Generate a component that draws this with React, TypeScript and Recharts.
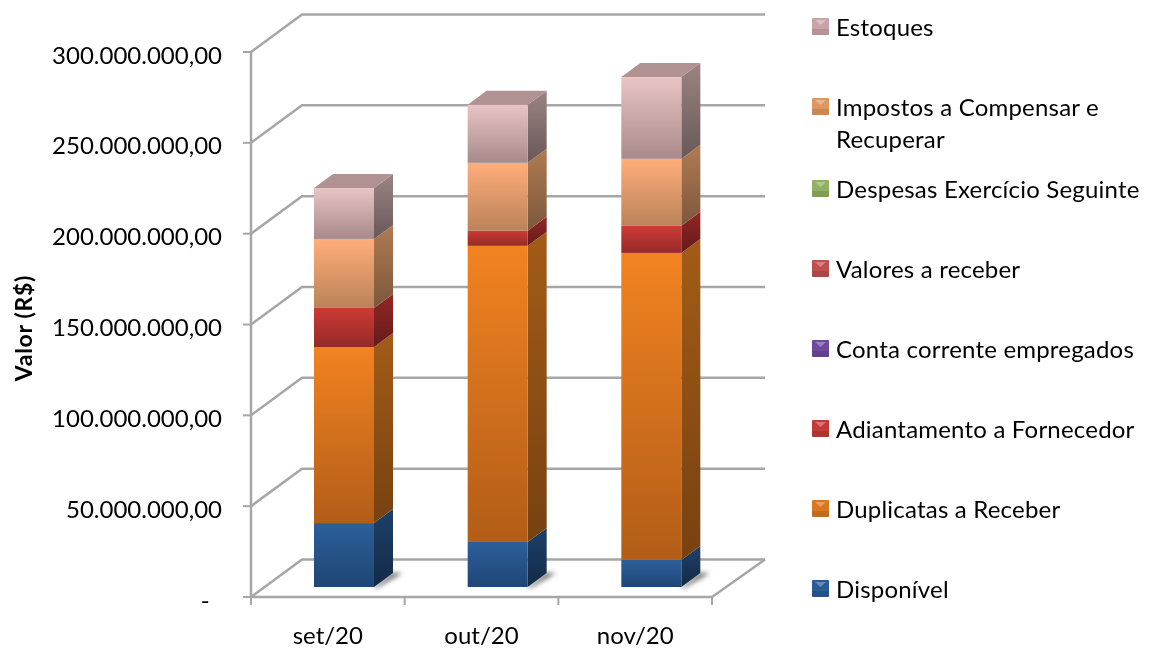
import { BarChart, Bar, XAxis, YAxis, CartesianGrid } from 'recharts'

const categories = ['set/20', 'out/20', 'nov/20']
const disponivel = [35200000, 24800000, 14900000]
const duplicatas = [96900000, 163000000, 169000000]
const adiantamento = [21500000, 8300000, 14900000]
const contaCorrente = [0, 0, 0]
const valoresReceber = [0, 0, 0]
const despesas = [0, 0, 0]
const impostos = [38000000, 37400000, 36900000]
const estoques = [28000000, 32000000, 45000000]

const yTicks = [0, 50000000, 100000000, 150000000, 200000000, 250000000, 300000000]

const data = categories.map((name, i) => ({
    name,
    disponivel: disponivel[i],
    duplicatas: duplicatas[i],
    adiantamento: adiantamento[i],
    contaCorrente: contaCorrente[i],
    valoresReceber: valoresReceber[i],
    despesas: despesas[i],
    impostos: impostos[i],
    estoques: estoques[i],
}))

// front[top,bottom], side[top,bottom]
const series = [
    { key: 'disponivel', name: 'Disponível', front: ['#2c5f9a', '#1f4675'], side: ['#1f4068', '#122a48'], swatch: '#2a5c96' },
    { key: 'duplicatas', name: 'Duplicatas a Receber', front: ['#f28321', '#b25d18'], side: ['#a35c17', '#774111'], swatch: '#d9781e' },
    { key: 'adiantamento', name: 'Adiantamento a Fornecedor', front: ['#cd3a36', '#952a27'], side: ['#942626', '#641a1a'], swatch: '#c43a34' },
    { key: 'contaCorrente', name: 'Conta corrente empregados', front: ['#7a52a8', '#5b3d80'], side: ['#53386f', '#3c2851'], swatch: '#6f4a9c' },
    { key: 'valoresReceber', name: 'Valores a receber', front: ['#cd3a36', '#952a27'], side: ['#942626', '#641a1a'], swatch: '#c0504d' },
    { key: 'despesas', name: 'Despesas Exercício Seguinte', front: ['#9bbb59', '#76904a'], side: ['#6d8340', '#4f5f2e'], swatch: '#90b062' },
    { key: 'impostos', name: 'Impostos a Compensar e Recuperar', front: ['#ffae7a', '#bb8258'], side: ['#b07b52', '#7c573d'], swatch: '#e0975f' },
    { key: 'estoques', name: 'Estoques', front: ['#e9c4c4', '#a88a8a'], side: ['#9c8383', '#685858'], swatch: '#c9a3a8' },
]

const FONT = 'Lato, sans-serif'
const GRID = '#a6a6a6'

const PLOT_LEFT = 251
const PLOT_RIGHT = 712
const BAND = (PLOT_RIGHT - PLOT_LEFT) / categories.length

// projection of the 3D box: depth of the wall, position of the bars in depth, bar side
const WALL_DX = 51
const WALL_DY = -37.5
const BAR_DX = 16
const BAR_DY = -10
const SIDE_DX = 19
const SIDE_DY = -14

// the zero label keeps its accounting padding
const formatValue = (v: number) => (v === 0 ? '-\u00A0\u00A0' : v.toLocaleString('pt-BR', { minimumFractionDigits: 2 }))

function Box3D(props: any) {
    const { x, y, width, height, seriesKey, isTop } = props
    if (!height || height <= 0) return null
    const l = x + BAR_DX
    const t = y + BAR_DY
    const r = l + width
    const b = t + height
    const isBottom = seriesKey === 'disponivel'
    return (
        <g>
            {isBottom && (
                <polygon
                    points={`${r},${b} ${r + SIDE_DX},${b + SIDE_DY} ${r + SIDE_DX + 9},${b + SIDE_DY} ${r + 2},${b + 1}`}
                    fill="#555"
                    filter="url(#blur3)"
                />
            )}
            <polygon
                points={`${r},${t} ${r + SIDE_DX},${t + SIDE_DY} ${r + SIDE_DX},${b + SIDE_DY} ${r},${b}`}
                fill={`url(#side-${seriesKey})`}
            />
            <rect x={l} y={t} width={width} height={height} fill={`url(#front-${seriesKey})`} />
            {isTop && (
                <polygon
                    points={`${l},${t} ${l + SIDE_DX},${t + SIDE_DY} ${r + SIDE_DX},${t + SIDE_DY} ${r},${t}`}
                    fill="#b09292"
                />
            )}
        </g>
    )
}

// each grid line runs along the side wall and then the back wall
function WallLine(props: any) {
    const { x1, x2, y1, index } = props
    const backY = y1 + WALL_DY
    const isFloor = Math.abs(y1 - 597) < 1
    return (
        <g key={`wall-${index}`} fill="none" stroke={GRID} strokeWidth={2.5}>
            <polyline points={`${x1},${y1} ${x1 + WALL_DX},${backY} ${x2 + WALL_DX + 2},${backY}`} />
            {isFloor && <line x1={x2 + WALL_DX + 2} y1={backY} x2={x2} y2={y1} />}
        </g>
    )
}

// ticks sit between the categories, not under the labels
function CategoryTick(props: any) {
    const { x, y, payload, index } = props
    const lineTop = y - 30
    return (
        <g>
            <line x1={x - BAND / 2} x2={x - BAND / 2} y1={lineTop} y2={lineTop + 8} stroke={GRID} strokeWidth={2} />
            {index === categories.length - 1 && (
                <line x1={x + BAND / 2} x2={x + BAND / 2} y1={lineTop} y2={lineTop + 8} stroke={GRID} strokeWidth={2} />
            )}
            <text x={x} y={y} dy="0.71em" textAnchor="middle" fill="#000" fontSize={24} fontFamily={FONT}>
                {payload.value}
            </text>
        </g>
    )
}

function AxisTitle() {
    return (
        <text
            x={23}
            y={328}
            transform="rotate(-90 23 328)"
            textAnchor="middle"
            dominantBaseline="central"
            fontFamily={FONT}
            fontSize={23}
            fontWeight={700}
            letterSpacing={0.7}
            fill="#000"
        >
            Valor (R$)
        </text>
    )
}

function Swatch({ item }: { item: (typeof series)[number] }) {
    return (
        <svg width={17} height={17} style={{ position: 'absolute', left: -24, top: 7 }}>
            <rect width={17} height={17} rx={1} fill={item.swatch} />
            <polygon points="3,2 14,2 8.5,7" fill="#fff" opacity={0.3} />
            <rect y={11} width={17} height={6} fill="#000" opacity={0.1} />
        </svg>
    )
}

function ChartLegend() {
    return (
        <div
            style={{
                position: 'absolute',
                left: 836,
                top: 11,
                width: 310,
                fontFamily: FONT,
                fontSize: 24,
                letterSpacing: 0.2,
                lineHeight: '32px',
                color: '#000',
            }}
        >
            {[...series].reverse().map((item) => {
                const twoLines = item.key === 'impostos'
                return (
                    <div key={item.key} style={{ position: 'relative', marginBottom: twoLines ? 18 : 48 }}>
                        <Swatch item={item} />
                        {item.name}
                    </div>
                )
            })}
        </div>
    )
}

export default function App() {
    return (
        <div style={{ position: 'absolute', left: 0, top: 0, width: 1149, height: 648, filter: 'blur(0.7px)' }}>
            <BarChart
                width={1149}
                height={648}
                data={data}
                barSize={60}
                margin={{ top: 52, right: 1149 - PLOT_RIGHT, bottom: 0, left: 0 }}
            >
                <defs>
                    <filter id="blur3" x="-50%" y="-50%" width="200%" height="200%">
                        <feGaussianBlur stdDeviation="2.5" />
                    </filter>
                    {series.map((s) => (
                        <linearGradient key={s.key} id={`front-${s.key}`} x1="0" y1="0" x2="0" y2="1">
                            <stop offset="0" stopColor={s.front[0]} />
                            <stop offset="1" stopColor={s.front[1]} />
                        </linearGradient>
                    ))}
                    {series.map((s) => (
                        <linearGradient key={s.key} id={`side-${s.key}`} x1="0" y1="0" x2="0" y2="1">
                            <stop offset="0" stopColor={s.side[0]} />
                            <stop offset="1" stopColor={s.side[1]} />
                        </linearGradient>
                    ))}
                </defs>
                <CartesianGrid vertical={false} horizontal={(p: any) => <WallLine {...p} />} />
                <XAxis
                    dataKey="name"
                    height={51}
                    stroke={GRID}
                    strokeWidth={2.5}
                    tickSize={8}
                    tickMargin={22}
                    tickLine={false}
                    tick={(p: any) => <CategoryTick {...p} />}
                    interval={0}
                />
                <YAxis
                    width={PLOT_LEFT}
                    domain={[0, 300000000]}
                    ticks={yTicks}
                    tickFormatter={formatValue}
                    stroke={GRID}
                    strokeWidth={2.5}
                    tickSize={8}
                    tickMargin={21}
                    tickLine={{ stroke: GRID, strokeWidth: 2 }}
                    tick={{ fill: '#000', fontSize: 24, fontFamily: FONT, dy: 3 }}
                    label={{ content: () => <AxisTitle /> }}
                />
                {series.map((s) => (
                    <Bar
                        key={s.key}
                        dataKey={s.key}
                        name={s.name}
                        stackId="total"
                        isAnimationActive={false}
                        shape={(p: any) => <Box3D {...p} seriesKey={s.key} isTop={s.key === 'estoques'} />}
                    />
                ))}
            </BarChart>
            <ChartLegend />
        </div>
    )
}
